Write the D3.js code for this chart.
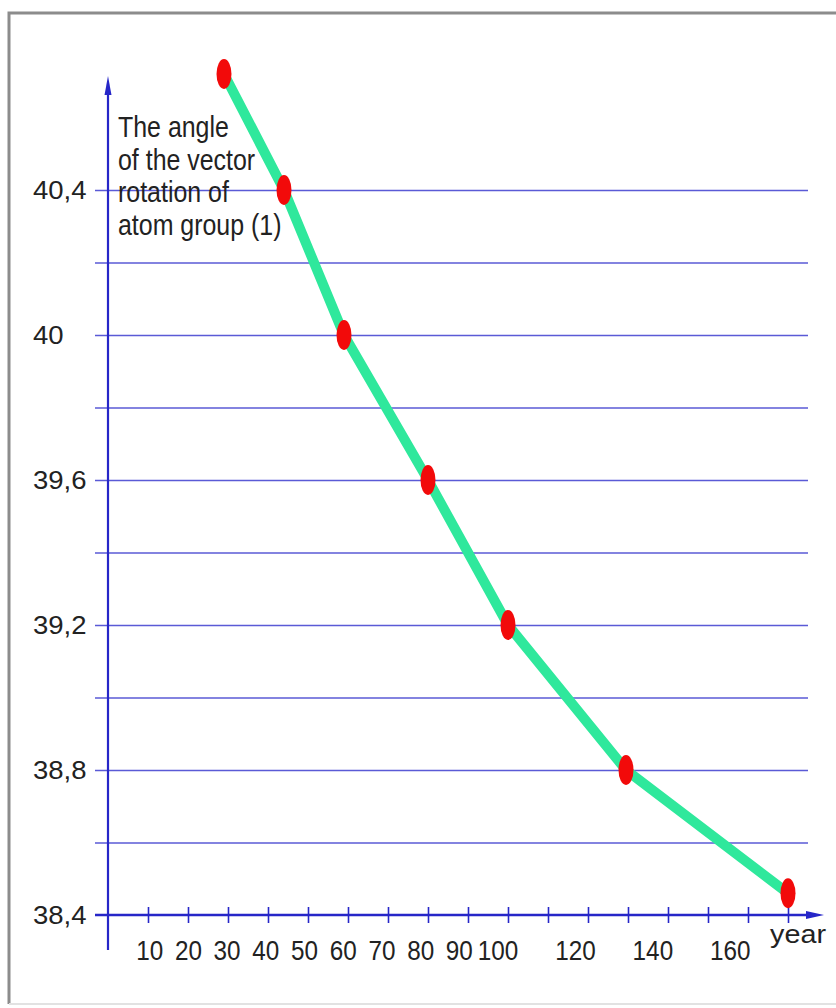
<!DOCTYPE html>
<html>
<head>
<meta charset="utf-8">
<script src="https://cdn.jsdelivr.net/npm/d3@7"></script>
<style>
  body { margin: 0; background: #fff; }
  svg { display: block; }
  text { font-family: "Liberation Sans", Arial, sans-serif; fill: #222; }
</style>
</head>
<body>
<div id="chart"></div>
<script>
// Data
const years = [29, 44, 59, 80, 100, 129.5, 170];
const angles = [40.72, 40.4, 40.0, 39.6, 39.2, 38.8, 38.46];

const gridValues = [38.6, 38.8, 39.0, 39.2, 39.4, 39.6, 39.8, 40.0, 40.2, 40.4];
const yTickValues = [40.4, 40.0, 39.6, 39.2, 38.8, 38.4];
const yTickLabels = ["40,4", "40", "39,6", "39,2", "38,8", "38,4"];
const xTickValues = [10, 20, 30, 40, 50, 60, 70, 80, 90, 100, 110, 120, 130, 140, 150, 160, 170];
const xLabelValues = [10, 20, 30, 40, 50, 60, 70, 80, 90, 100, 120, 140, 160];
const titleLines = ["The angle", "of the vector", "rotation of", "atom group (1)"];
const xUnit = "year";

const W = 836, H = 1008;
const axisColor = "#2626c8";
const gridColor = "#5a5ad6";

const svg = d3.select("#chart").append("svg")
    .attr("width", W)
    .attr("height", H);

// frame
svg.append("path")
    .attr("d", "M9,1004 L9,13 L836,13")
    .attr("fill", "none")
    .attr("stroke", "#8c8c8c")
    .attr("stroke-width", 3);
svg.append("line")
    .attr("x1", 9).attr("x2", 836).attr("y1", 1004).attr("y2", 1004)
    .attr("stroke", "#e2e2e2").attr("stroke-width", 2);

// scales
const x = d3.scaleLinear().domain([0, 170]).range([108, 788]);
const y = d3.scaleLinear().domain([38.4, 40.4]).range([915, 190]);
// labels under the x axis sit slightly left of their ticks
const xLabel = d3.scaleLinear().domain([0, 170]).range([111, 769]);

// grid lines with their short stubs left of the axis
svg.append("g")
    .attr("transform", "translate(95,0)")
    .call(d3.axisLeft(y).tickValues(gridValues).tickSize(-713).tickFormat(""))
    .call(g => g.select(".domain").remove())
    .call(g => g.selectAll(".tick line").attr("stroke", gridColor).attr("stroke-width", 1.6));

// x ticks
svg.append("g")
    .attr("transform", "translate(0,907)")
    .call(d3.axisBottom(x).tickValues(xTickValues).tickSize(16).tickFormat(""))
    .call(g => g.select(".domain").remove())
    .call(g => g.selectAll(".tick line").attr("stroke", axisColor).attr("stroke-width", 1.6));

// y axis with arrow
svg.append("line")
    .attr("x1", x(0)).attr("x2", x(0))
    .attr("y1", 950).attr("y2", 92)
    .attr("stroke", axisColor).attr("stroke-width", 2.2);
svg.append("path")
    .attr("d", `M${x(0)},76 L${x(0) + 3.5},95 L${x(0) - 3.5},95 Z`)
    .attr("fill", axisColor);

// x axis with arrow
svg.append("line")
    .attr("x1", 95).attr("x2", 808)
    .attr("y1", y(38.4)).attr("y2", y(38.4))
    .attr("stroke", axisColor).attr("stroke-width", 2.6);
svg.append("path")
    .attr("d", `M824,${y(38.4)} L806,${y(38.4) - 4} L806,${y(38.4) + 4} Z`)
    .attr("fill", axisColor);

// y labels
svg.append("g").selectAll("text")
    .data(yTickValues)
    .enter().append("text")
    .attr("transform", d => `translate(33,${y(d) + 9}) scale(1.1,1)`)
    .attr("font-size", 25)
    .text((d, i) => yTickLabels[i]);

// x labels
svg.append("g").selectAll("text")
    .data(xLabelValues)
    .enter().append("text")
    .attr("transform", d => `translate(${xLabel(d)},960) scale(0.9,1)`)
    .attr("text-anchor", "middle")
    .attr("font-size", 27)
    .text(d => d);

svg.append("text")
    .attr("transform", "translate(798,943) scale(1.15,1)")
    .attr("text-anchor", "middle")
    .attr("font-size", 25)
    .text(xUnit);

// axis title (tight line spacing as in the picture)
svg.append("g").selectAll("text")
    .data(titleLines)
    .enter().append("text")
    .attr("transform", (d, i) => `translate(118,${137 + i * 32.5}) scale(0.86,1)`)
    .attr("font-size", 29)
    .text(d => d);

// line and points
const points = years.map((d, i) => ({ year: d, angle: angles[i] }));
const line = d3.line()
    .x(d => x(d.year))
    .y(d => y(d.angle));

svg.append("path")
    .datum(points)
    .attr("fill", "none")
    .attr("stroke", "#2fe89c")
    .attr("stroke-width", 10)
    .attr("stroke-linejoin", "round")
    .attr("d", line);

svg.append("g").selectAll("ellipse")
    .data(points)
    .enter().append("ellipse")
    .attr("cx", d => x(d.year))
    .attr("cy", d => y(d.angle))
    .attr("rx", 7.5)
    .attr("ry", 15)
    .attr("fill", "#f20a0a");
</script>
</body>
</html>
